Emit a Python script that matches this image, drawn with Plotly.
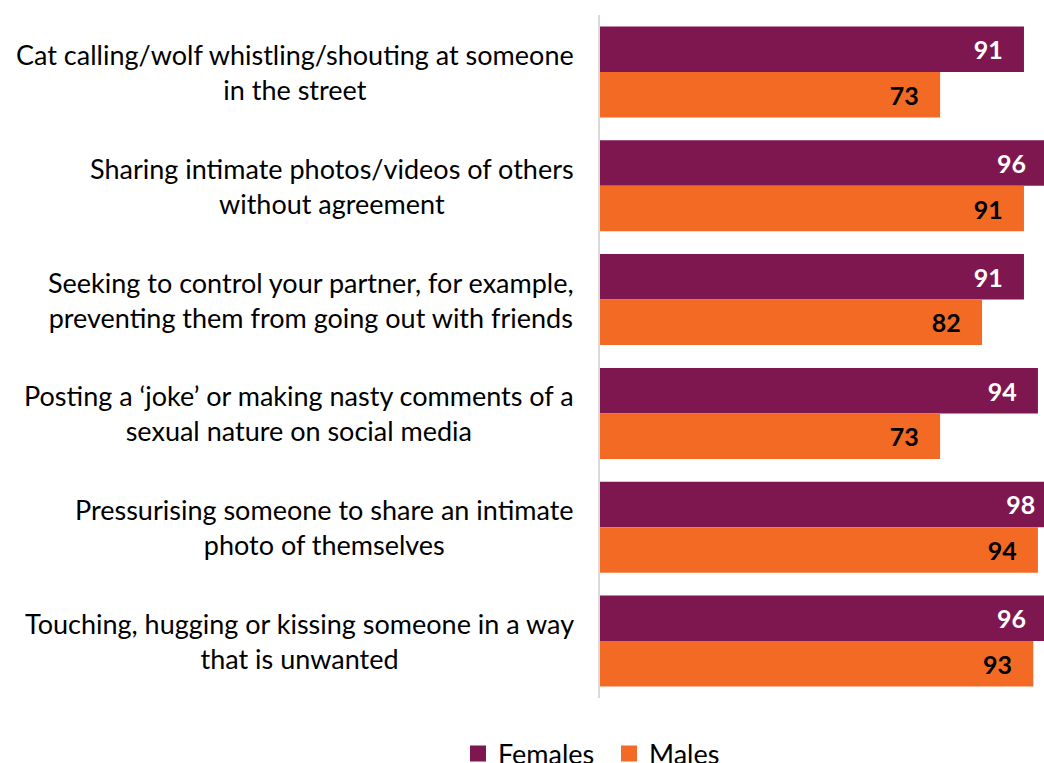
import plotly.graph_objects as go

categories = [
    "Cat calling/wolf whistling/shouting at someone<br>in the street",
    "Sharing intimate photos/videos of others<br>without agreement",
    "Seeking to control your partner, for example,<br>preventing them from going out with friends",
    "Posting a \u2018joke\u2019 or making nasty comments of a<br>sexual nature on social media",
    "Pressurising someone to share an intimate<br>photo of themselves",
    "Touching, hugging or kissing someone in a way<br>that is unwanted",
]
series_names = ["Females", "Males"]
females = [91, 96, 91, 94, 98, 96]
males = [73, 91, 82, 73, 94, 93]

FONT = "Lato"
PURPLE = "#7E174F"
ORANGE = "#F36A24"
PAD = "\u00a0\u00a0\u00a0"

fig = go.Figure()
for name, vals, color, tcol in [
    (series_names[0], females, PURPLE, "white"),
    (series_names[1], males, ORANGE, "black"),
]:
    fig.add_trace(go.Bar(
        y=categories, x=vals, name=name, orientation="h", showlegend=False,
        marker=dict(color=color, line=dict(width=0)),
        texttemplate="%{x}" + PAD, textposition="inside", insidetextanchor="end",
        textfont=dict(family=FONT, size=25, color=tcol, weight="bold"),
        textangle=0, hoverinfo="skip",
    ))
    # legend-only entry with a larger square swatch
    fig.add_trace(go.Scatter(
        x=[None], y=[None], name=name, mode="markers",
        marker=dict(symbol="square", size=16, color=color),
        showlegend=True,
    ))

for c in categories:
    fig.add_annotation(
        x=0, xref="paper", y=c, yref="y", xanchor="right", yanchor="middle",
        xshift=-24, yshift=0, text=c, showarrow=False, align="center",
        font=dict(family=FONT, size=27, color="black"),
    )

fig.update_layout(
    width=1044, height=763,
    margin=dict(l=600, r=0, t=15, b=65),
    paper_bgcolor="white", plot_bgcolor="white",
    barmode="group", bargap=0.2, bargroupgap=0,
    font=dict(family=FONT, size=27, color="black"),
    showlegend=True,
    legend=dict(
        orientation="h", xref="container", yref="container",
        x=458 / 1044, y=0.0118, xanchor="left", yanchor="middle",
        font=dict(family=FONT, size=27, color="black"),
        traceorder="normal", entrywidth=106, itemsizing="trace",
    ),
)
fig.update_xaxes(range=[0, 95.3], visible=False, showgrid=False, zeroline=False)
fig.update_yaxes(
    autorange="reversed", showticklabels=False, ticks="",
    showline=True, linecolor="#D9D9D9", linewidth=2, showgrid=False,
)

fig.write_html(
    "out.html",
    config={"displayModeBar": False},
    post_script="document.body.style.margin='0';document.body.style.overflow='hidden';",
)
